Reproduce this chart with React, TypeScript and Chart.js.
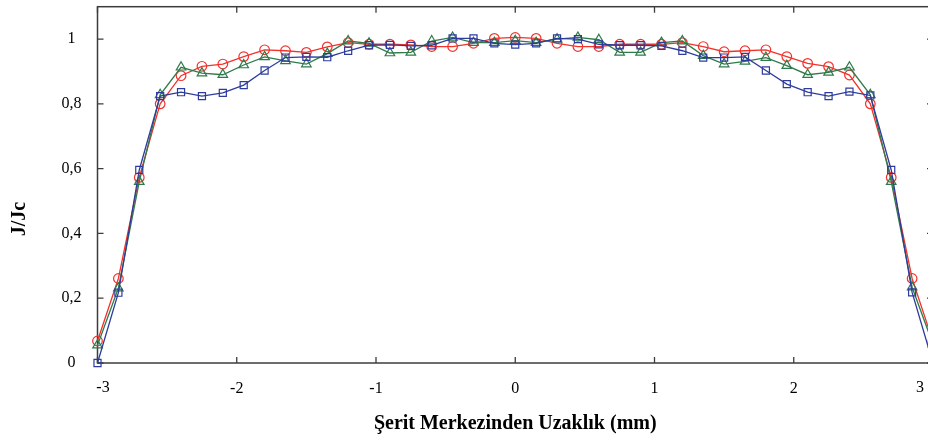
import React, { useEffect, useRef } from "react";
import { Chart, registerables } from "chart.js";

Chart.register(...registerables);

const xValues = [
  -3, -2.85, -2.7, -2.55, -2.4, -2.25, -2.1, -1.95, -1.8, -1.65, -1.5, -1.35, -1.2, -1.05,
  -0.9, -0.75, -0.6, -0.45, -0.3, -0.15, 0, 0.15, 0.3, 0.45, 0.6, 0.75, 0.9, 1.05, 1.2,
  1.35, 1.5, 1.65, 1.8, 1.95, 2.1, 2.25, 2.4, 2.55, 2.7, 2.85, 3,
];

const redValues = [
  0.068, 0.261, 0.573, 0.8, 0.887, 0.916, 0.923, 0.946, 0.967, 0.964, 0.959, 0.976, 0.989,
  0.984, 0.984, 0.982, 0.977, 0.977, 0.987, 1.002, 1.005, 1.002, 0.987, 0.977, 0.977, 0.984,
  0.984, 0.984, 0.989, 0.977, 0.961, 0.964, 0.967, 0.946, 0.925, 0.915, 0.889, 0.8, 0.573,
  0.261, 0.066,
];

const greenValues = [
  0.055, 0.231, 0.56, 0.828, 0.913, 0.895, 0.89, 0.92, 0.945, 0.933, 0.923, 0.955, 0.994,
  0.987, 0.957, 0.959, 0.994, 1.005, 0.989, 0.989, 0.995, 0.989, 1.0, 1.005, 0.998, 0.959,
  0.959, 0.989, 0.994, 0.949, 0.923, 0.931, 0.943, 0.918, 0.89, 0.897, 0.913, 0.828, 0.56,
  0.234, 0.058,
];

const blueValues = [
  0.0, 0.217, 0.596, 0.824, 0.836, 0.824, 0.834, 0.858, 0.903, 0.943, 0.945, 0.944, 0.964,
  0.981, 0.982, 0.979, 0.981, 1.002, 1.002, 0.987, 0.983, 0.987, 1.002, 1.0, 0.984, 0.981,
  0.981, 0.979, 0.964, 0.943, 0.943, 0.945, 0.903, 0.861, 0.836, 0.824, 0.838, 0.826, 0.596,
  0.218, 0.0,
];

const xTicks = [-3, -2, -1, 0, 1, 2, 3];
const yTicks = [0, 0.2, 0.4, 0.6, 0.8, 1];
const yTickLabels = ["0", "0,2", "0,4", "0,6", "0,8", "1"];
const xTitle = "Şerit Merkezinden Uzaklık (mm)";
const yTitle = "J/Jc";

const FONT = '"Liberation Serif", "Times New Roman", serif';

const toPoints = (vals: number[]) => vals.map((v, i) => ({ x: xValues[i], y: v }));

const framePlugin = {
  id: "frame",
  beforeDatasetsDraw(chart: any) {
    const { ctx, chartArea } = chart;
    const { left, top, right, bottom } = chartArea;
    const xs = chart.scales.x;
    const ys = chart.scales.y;
    ctx.save();
    ctx.strokeStyle = "#3c3c3c";
    ctx.lineWidth = 1.5;
    ctx.strokeRect(left, top, right - left, bottom - top);
    ctx.lineWidth = 1.3;
    const tl = 6;
    ctx.beginPath();
    xTicks.forEach((v) => {
      const px = xs.getPixelForValue(v);
      ctx.moveTo(px, bottom);
      ctx.lineTo(px, bottom - tl);
      ctx.moveTo(px, top);
      ctx.lineTo(px, top + tl);
    });
    yTicks.forEach((v) => {
      const py = ys.getPixelForValue(v);
      ctx.moveTo(left, py);
      ctx.lineTo(left + tl, py);
      ctx.moveTo(right, py);
      ctx.lineTo(right - tl, py);
    });
    ctx.stroke();
    ctx.restore();
  },
  afterDraw(chart: any) {
    const { ctx } = chart;
    ctx.save();
    ctx.fillStyle = "#000";
    ctx.textAlign = "center";
    ctx.textBaseline = "middle";
    ctx.font = `16px ${FONT}`;
    ctx.fillText("-3", 103, 388);
    ctx.fillText("3", 920, 388);
    ctx.translate(20, 219);
    ctx.rotate(-Math.PI / 2);
    ctx.font = `bold 20px ${FONT}`;
    ctx.fillText(yTitle, 0, 0);
    ctx.restore();
  },
};

export default function App() {
  const ref = useRef<HTMLCanvasElement | null>(null);
  useEffect(() => {
    if (!ref.current) return;
    const mk = (label: string, data: number[], color: string, style: string, r: number) => ({
      label,
      data: toPoints(data),
      borderColor: color,
      backgroundColor: "rgba(0,0,0,0)",
      pointBackgroundColor: "rgba(0,0,0,0)",
      pointBorderColor: color,
      pointStyle: style,
      pointRadius: r,
      pointBorderWidth: 1.2,
      borderWidth: 1.3,
      tension: 0,
      clip: false,
    });
    const chart = new Chart(ref.current, {
      type: "line",
      data: {
        datasets: [
          mk("blue", blueValues, "#2d3c9c", "rect", 5),
          mk("green", greenValues, "#2e7a4b", "triangle", 5.5),
          mk("red", redValues, "#f2322b", "circle", 4.8),
        ],
      },
      plugins: [framePlugin],
      options: {
        animation: false,
        responsive: false,
        devicePixelRatio: 1,
        layout: { padding: { left: 0, right: 27, top: 4, bottom: 0 } },
        plugins: { legend: { display: false }, tooltip: { enabled: false } },
        scales: {
          x: {
            type: "linear",
            min: -3,
            max: 3,
            grid: { display: false, drawTicks: false },
            border: { display: false },
            afterBuildTicks: (s: any) => {
              s.ticks = xTicks.map((v) => ({ value: v }));
            },
            afterFit: (s: any) => {
              s.height = 80;
              s.paddingLeft = 0;
              s.paddingRight = 0;
            },
            ticks: {
              color: "#000",
              font: { family: FONT, size: 16 },
              padding: 16,
              maxRotation: 0,
              callback: (v: any) => (v === -3 || v === 3 ? "" : String(v)),
            },
            title: {
              display: true,
              text: xTitle,
              color: "#000",
              font: { family: FONT, size: 20, weight: "bold" },
              padding: { top: 0, bottom: 7 },
            },
          },
          y: {
            type: "linear",
            min: 0,
            max: 1.1,
            grid: { display: false, drawTicks: false },
            border: { display: false },
            afterBuildTicks: (s: any) => {
              s.ticks = yTicks.map((v) => ({ value: v }));
            },
            afterFit: (s: any) => {
              s.width = 97.5;
              s.paddingTop = 0;
              s.paddingBottom = 0;
            },
            ticks: {
              color: "#000",
              font: { family: FONT, size: 16 },
              padding: 16,
              crossAlign: "center",
              callback: (v: any) => {
                const i = yTicks.findIndex((t) => Math.abs(t - v) < 1e-6);
                return i >= 0 ? yTickLabels[i] : "";
              },
            },
          },
        },
      },
    } as any);
    return () => chart.destroy();
  }, []);
  return (
    <div
      style={{
        position: "absolute",
        left: 0,
        top: 0,
        width: 928,
        height: 443,
        overflow: "hidden",
        background: "#fff",
      }}
    >
      <canvas ref={ref} width={960} height={443} style={{ width: 960, height: 443, display: "block" }} />
    </div>
  );
}
